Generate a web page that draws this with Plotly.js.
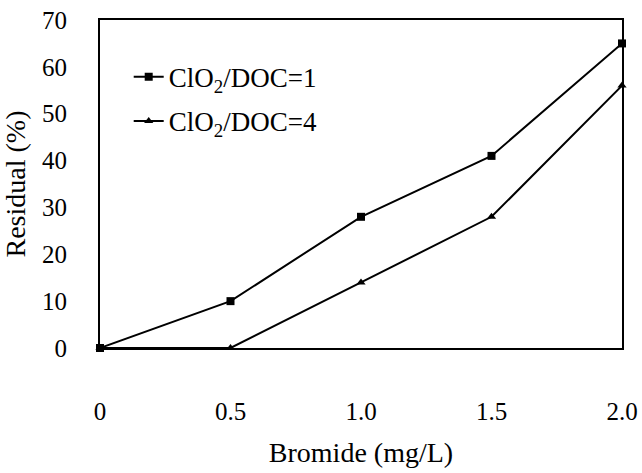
<!DOCTYPE html>
<html>
<head>
<meta charset="utf-8">
<script src="https://cdn.plot.ly/plotly-3.0.1.min.js"></script>
<style>html,body{margin:0;padding:0;background:#fff;}#chart{width:642px;height:473px;}</style>
</head>
<body>
<div id="chart"></div>
<script>
const bromide = [0, 0.5, 1.0, 1.5, 2.0];
const ratio1 = [0, 10, 28, 41, 65];
const ratio4 = [0, 0, 14, 28, 56];
const name1 = 'ClO<sub>2</sub>/DOC=1';
const name4 = 'ClO<sub>2</sub>/DOC=4';
const xTicks = [0, 0.5, 1.0, 1.5, 2.0];
const xTickText = ['0', '0.5', '1.0', '1.5', '2.0'];
const yTicks = [0, 10, 20, 30, 40, 50, 60, 70];

const font = 'Liberation Serif';

const traces = [
  {x: bromide, y: ratio1, name: name1, type: 'scatter', mode: 'lines+markers',
   legendgroup: 'a', cliponaxis: false,
   line: {color: '#000', width: 2}, marker: {symbol: 'square', size: 8, color: '#000'}},
  {x: bromide, y: ratio4, name: name4, type: 'scatter', mode: 'lines+markers',
   legendgroup: 'b', cliponaxis: false,
   line: {color: '#000', width: 2}, marker: {symbol: 'triangle-up', size: 8, color: '#000'}}
];

const layout = {
  width: 642, height: 473,
  margin: {l: 100, r: 20, t: 20, b: 125},
  paper_bgcolor: '#fff', plot_bgcolor: '#fff',
  font: {family: font, color: '#000', size: 24},
  showlegend: true,
  legend: {x: 0.055, y: 0.90, xanchor: 'left', yanchor: 'top', bgcolor: 'rgba(0,0,0,0)',
           font: {family: font, size: 27, color: '#000'}, tracegroupgap: 6, itemwidth: 30},
  xaxis: {range: [0, 2], tickvals: xTicks, ticktext: xTickText, showgrid: false, zeroline: false,
          showline: true, linecolor: '#000', linewidth: 2, mirror: true,
          ticks: 'outside', ticklen: 40, tickcolor: 'rgba(0,0,0,0)',
          tickfont: {family: font, size: 25, color: '#000'},
          title: {text: 'Bromide (mg/L)', font: {family: font, size: 28, color: '#000'}, standoff: 18}},
  yaxis: {range: [0, 70], tickvals: yTicks, showgrid: false, zeroline: false,
          showline: true, linecolor: '#000', linewidth: 2, mirror: true,
          ticks: 'outside', ticklen: 26, tickcolor: 'rgba(0,0,0,0)',
          tickfont: {family: font, size: 25, color: '#000'},
          title: {text: 'Residual (%)', font: {family: font, size: 28, color: '#000'}, standoff: 12}}
};

Plotly.newPlot('chart', traces, layout, {displayModeBar: false, staticPlot: true});
</script>
</body>
</html>
